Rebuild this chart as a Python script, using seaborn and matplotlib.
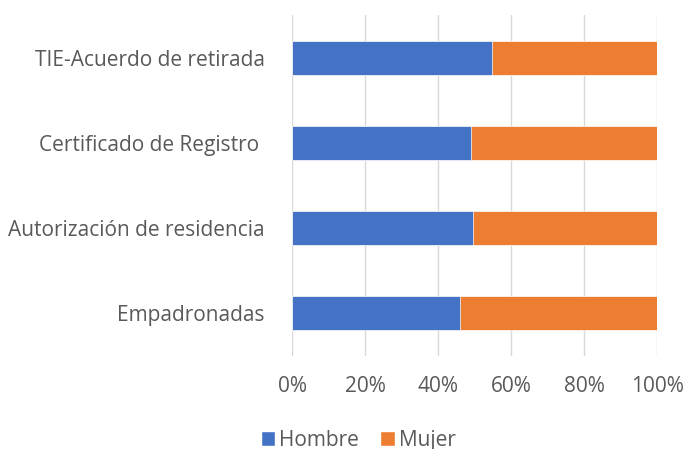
import pandas as pd
import matplotlib
matplotlib.use('Agg')
import matplotlib.pyplot as plt
import seaborn as sns
from matplotlib.patches import Patch
from matplotlib.ticker import PercentFormatter

categorias = ['TIE-Acuerdo de retirada', 'Certificado de Registro ',
              'Autorización de residencia', 'Empadronadas']
hombre = [54.8, 49.0, 49.6, 46.0]
mujer = [45.2, 51.0, 50.4, 54.0]

df = pd.DataFrame({'Categoria': categorias, 'Hombre': hombre, 'Mujer': mujer})
df['Total'] = df['Hombre'] + df['Mujer']

sns.set_theme(style='white')
plt.rcParams['font.family'] = ['Open Sans', 'DejaVu Sans']

fig = plt.figure(figsize=(6.86, 4.49), dpi=100)
ax = fig.add_axes([0.4261, 0.2082, 0.532, 0.7573])

# stacked 100% bars: total in orange, then men in blue on top
sns.barplot(data=df, y='Categoria', x='Total', color='#ED7D31', width=0.4,
            orient='h', ax=ax, saturation=1, edgecolor='white', linewidth=0.5)
sns.barplot(data=df, y='Categoria', x='Hombre', color='#4472C4', width=0.4,
            orient='h', ax=ax, saturation=1, edgecolor='white', linewidth=0.5)

ax.set_xlim(0, 100)
ax.set_ylim(3.5, -0.5)
ax.set_xticks([0, 20, 40, 60, 80, 100])
ax.xaxis.set_major_formatter(PercentFormatter(decimals=0))
ax.grid(axis='x', color='#D9D9D9', linewidth=1)
ax.set_axisbelow(True)
for s in ax.spines.values():
    s.set_visible(False)
ax.set_xlabel('')
ax.set_ylabel('')
ax.tick_params(axis='both', length=0, labelsize=15, colors='#595959')
ax.tick_params(axis='x', pad=15)
ax.tick_params(axis='y', pad=20)

handles = [Patch(facecolor='#4472C4', label='Hombre'),
           Patch(facecolor='#ED7D31', label='Mujer')]
fig.legend(handles=handles, loc='center', bbox_to_anchor=(0.522, 0.02),
           ncol=2, frameon=False, fontsize=15, handlelength=0.7,
           handleheight=0.7, handletextpad=0.2, columnspacing=1.0,
           labelcolor='#595959')

fig.savefig('out.png', dpi=100)
